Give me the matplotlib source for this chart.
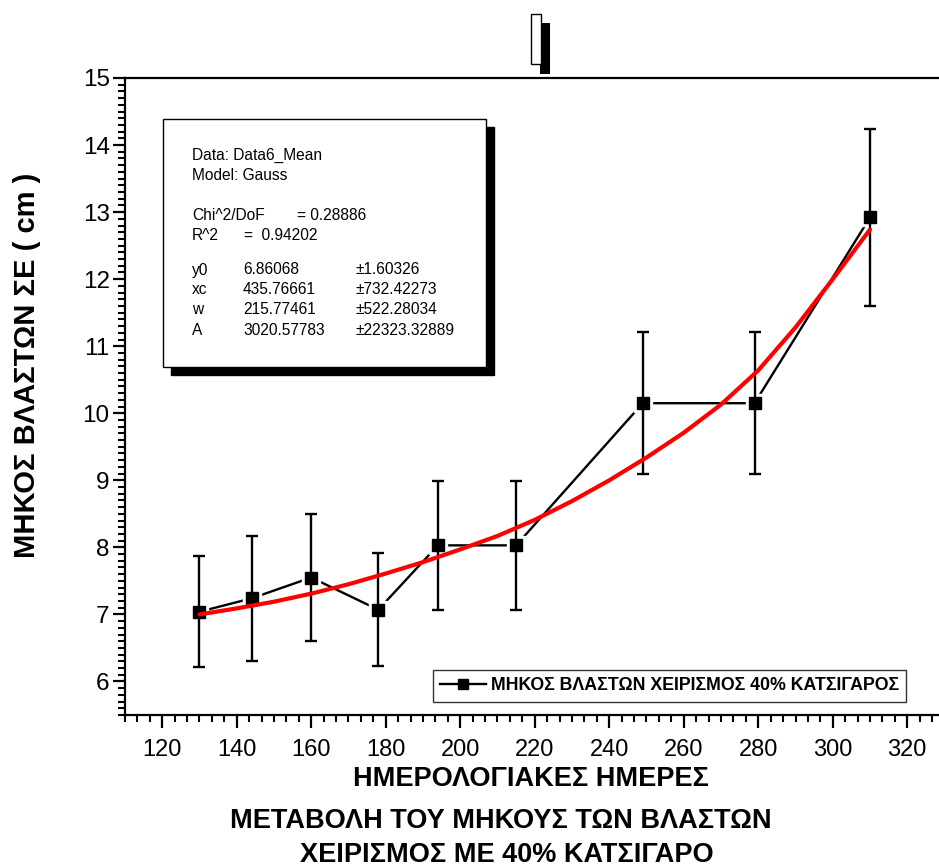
import matplotlib
matplotlib.use("Agg")
import matplotlib.pyplot as plt
from matplotlib.ticker import MultipleLocator, FixedLocator
from matplotlib.patches import Rectangle
from matplotlib.lines import Line2D
import matplotlib.font_manager as fm

# ---- data ----
days = [130, 144, 160, 178, 194, 215, 249, 279, 310]
length_mean = [7.04, 7.24, 7.55, 7.07, 8.03, 8.03, 10.15, 10.15, 12.92]
length_err = [0.83, 0.93, 0.95, 0.84, 0.96, 0.96, 1.06, 1.06, 1.32]

fit_days = [130, 140, 150, 160, 170, 180, 190, 200, 210, 220,
            230, 240, 250, 260, 270, 280, 290, 300, 310]
fit_length = [7.00, 7.09, 7.19, 7.31, 7.45, 7.61, 7.78, 7.97, 8.17, 8.41,
              8.69, 9.00, 9.34, 9.71, 10.13, 10.64, 11.28, 12.00, 12.74]

x_ticks = [120, 140, 160, 180, 200, 220, 240, 260, 280, 300, 320]
y_ticks = [6, 7, 8, 9, 10, 11, 12, 13, 14, 15]

legend_label = "ΜΗΚΟΣ ΒΛΑΣΤΩΝ ΧΕΙΡΙΣΜΟΣ 40% ΚΑΤΣΙΓΑΡΟΣ"
xlabel_lines = ["ΗΜΕΡΟΛΟΓΙΑΚΕΣ ΗΜΕΡΕΣ",
                "ΜΕΤΑΒΟΛΗ ΤΟΥ ΜΗΚΟΥΣ ΤΩΝ ΒΛΑΣΤΩΝ",
                "ΧΕΙΡΙΣΜΟΣ ΜΕ 40% ΚΑΤΣΙΓΑΡΟ"]
ylabel = "ΜΗΚΟΣ ΒΛΑΣΤΩΝ ΣΕ ( cm )"

fit_rows = [("y0", "6.86068", "±1.60326"),
            ("xc", "435.76661", "±732.42273"),
            ("w", "215.77461", "±522.28034"),
            ("A", "3020.57783", "±22323.32889")]

# ---- fonts ----
REG = ["Liberation Sans", "DejaVu Sans"]
plt.rcParams['font.family'] = REG

W, H = 939, 868
fig = plt.figure(figsize=(W / 100, H / 100), dpi=100)

def fx(px):
    return px / W

def fy(py):
    return 1 - py / H

ax_left, ax_right, ax_top, ax_bottom = 125, 944.5, 78, 715
ax = fig.add_axes([fx(ax_left), fy(ax_bottom), (ax_right - ax_left) / W, (ax_bottom - ax_top) / H])
ax.set_xlim(110, 330)
ax.set_ylim(5.5, 15)

# data line
ax.plot(days, length_mean, color='black', lw=1.7, zorder=2)
ax.plot(days, length_mean, ls='none', marker='s', ms=13, color='white', zorder=3)
ax.errorbar(days, length_mean, yerr=length_err, fmt='none', ecolor='black',
            elinewidth=1.7, capsize=4.5, capthick=1.7, zorder=4)
ax.plot(days, length_mean, ls='none', marker='s', ms=8.5, color='black', zorder=5)
# fit curve
ax.plot(fit_days, fit_length, color='#ff0000', lw=3, zorder=6,
        solid_capstyle='round', solid_joinstyle='round')

# axes styling
for s in ['left', 'bottom', 'top']:
    ax.spines[s].set_linewidth(1.6)
ax.spines['right'].set_visible(False)
ax.xaxis.set_major_locator(FixedLocator(x_ticks))
ax.xaxis.set_minor_locator(MultipleLocator(20 / 6))
ax.yaxis.set_major_locator(FixedLocator(y_ticks))
ax.yaxis.set_minor_locator(MultipleLocator(0.1))
ax.tick_params(axis='both', which='major', direction='out', length=9, width=1.6)
ax.tick_params(axis='both', which='minor', direction='out', length=5, width=1.5)
ax.tick_params(axis='x', which='major', pad=8)
ax.tick_params(axis='y', which='major', pad=2)
for t in ax.get_xticklabels():
    t.set_fontsize(17)
for t in ax.get_yticklabels():
    t.set_fontsize(17.5)

# legend
handle = Line2D([], [], color='black', lw=1.7, marker='s', ms=7)
leg = ax.legend([handle], [legend_label], loc='center',
                bbox_to_anchor=(fx(669.5), fy(686)), bbox_transform=fig.transFigure,
                frameon=True, fancybox=False, shadow=False, borderpad=0.4,
                handlelength=2.6, handletextpad=0.25,
                prop=fm.FontProperties(family=REG, weight='bold', size=12.8))
leg.get_frame().set_edgecolor('black')
leg.get_frame().set_linewidth(1.0)

# fit parameter box with shadow
bx0, by0, bx1, by1 = 162.5, 119, 486, 367
sh = 8
fig.add_artist(Rectangle((fx(bx0 + sh), fy(by1 + sh)), (bx1 - bx0) / W, (by1 - by0) / H,
                         transform=fig.transFigure, facecolor='black', edgecolor='black', zorder=9))
fig.add_artist(Rectangle((fx(bx0), fy(by1)), (bx1 - bx0) / W, (by1 - by0) / H,
                         transform=fig.transFigure, facecolor='white', edgecolor='black',
                         lw=1.0, zorder=10))
tkw = dict(fontsize=11.2, va='center', ha='left', zorder=11, family=REG)
fig.text(fx(192), fy(155), "Data: Data6_Mean", **tkw)
fig.text(fx(192), fy(175), "Model: Gauss", **tkw)
fig.text(fx(192), fy(215), "Chi^2/DoF", **tkw)
fig.text(fx(297), fy(215), "= 0.28886", **tkw)
fig.text(fx(192), fy(235), "R^2", **tkw)
fig.text(fx(244), fy(235), "=  0.94202", **tkw)
for i, (nm, val, err) in enumerate(fit_rows):
    yy = 270 + 20 * i
    fig.text(fx(192), fy(yy), nm, **tkw)
    fig.text(fx(243), fy(yy), val, **tkw)
    fig.text(fx(356), fy(yy), err, **tkw)

# small empty box with shadow at top
fig.add_artist(Rectangle((fx(539.5), fy(73.5)), 10.5 / W, 51 / H, transform=fig.transFigure,
                         facecolor='black', edgecolor='black', lw=0, zorder=9))
fig.add_artist(Rectangle((fx(531), fy(64)), 9.5 / W, 50 / H, transform=fig.transFigure,
                         facecolor='white', edgecolor='black', lw=1.0, zorder=10))

# axis titles
lkw = dict(ha='center', va='center', fontweight='bold', family=REG, fontsize=19.5)
fig.text(fx(531), fy(779), xlabel_lines[0], **lkw)
fig.text(fx(501), fy(821), xlabel_lines[1], **lkw)
fig.text(fx(507), fy(855), xlabel_lines[2], **lkw)
fig.text(fx(27), fy(365), ylabel, rotation=90, ha='center', va='center',
         fontweight='bold', family=REG, fontsize=21)

fig.savefig("out.png", dpi=100)
